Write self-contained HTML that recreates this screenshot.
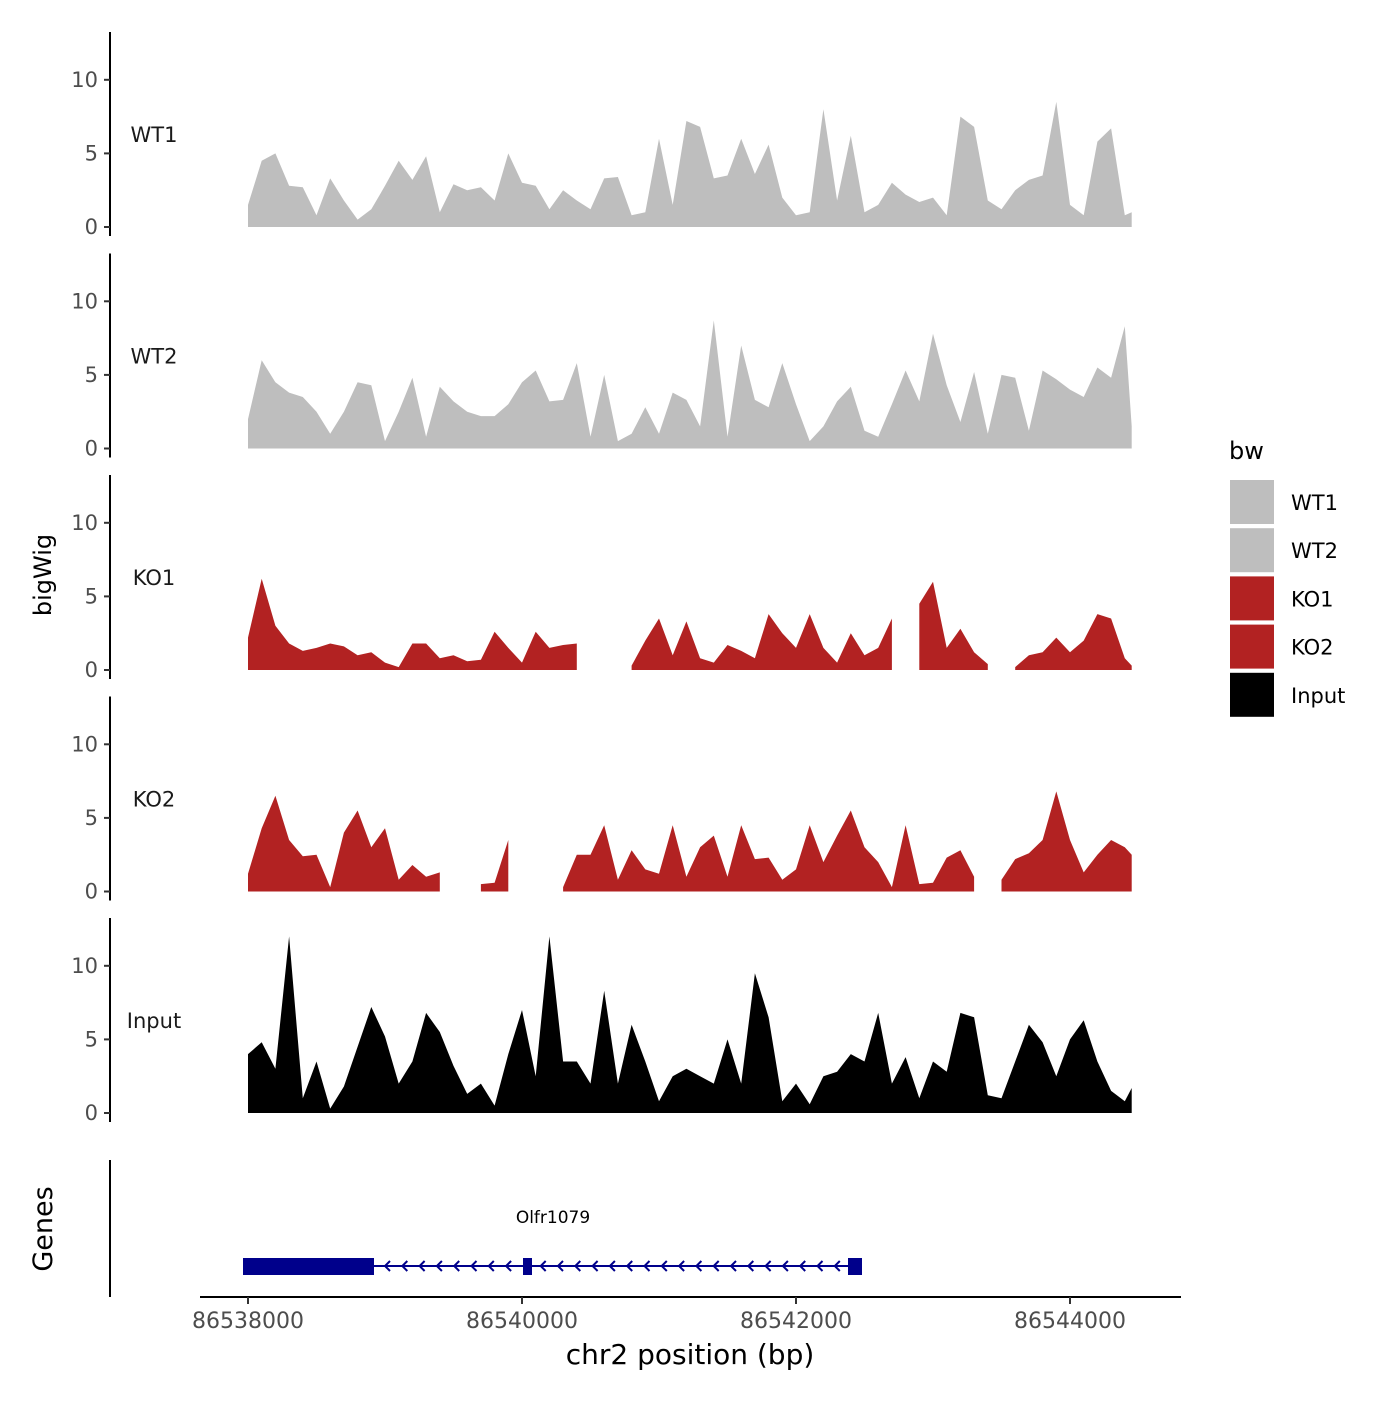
<!DOCTYPE html>
<html><head><meta charset="utf-8"><style>
html,body{margin:0;padding:0;background:#fff;}
svg text{font-family:"DejaVu Sans","Liberation Sans",sans-serif;}
</style></head><body>
<svg id="chart" width="1400" height="1400" viewBox="0 0 1400 1400" xmlns="http://www.w3.org/2000/svg"></svg>
<script>
const trackNames = ["WT1","WT2","KO1","KO2","Input"];
const trackColors = ["#bebebe","#bebebe","#b22222","#b22222","#000000"];
const yTicks = [0,5,10];
const xTicks = [86538000,86540000,86542000,86544000];
const startBp = 86538000, stepBp = 100;
const wt1 = [1.5,4.5,5,2.8,2.7,0.8,3.3,1.8,0.5,1.2,2.8,4.5,3.2,4.8,1,2.9,2.5,2.7,1.8,5,3,2.8,1.2,2.5,1.8,1.2,3.3,3.4,0.8,1,6,1.5,7.2,6.8,3.3,3.5,6,3.6,5.6,2,0.8,1,8,1.8,6.2,1,1.5,3,2.2,1.7,2,0.8,7.5,6.8,1.8,1.2,2.5,3.2,3.5,8.5,1.5,0.8,5.8,6.7,0.8,1];
const wt2 = [2,6,4.5,3.8,3.5,2.5,1,2.5,4.5,4.3,0.5,2.5,4.8,0.8,4.2,3.2,2.5,2.2,2.2,3,4.5,5.3,3.2,3.3,5.8,0.8,5,0.5,1,2.8,1,3.8,3.3,1.5,8.7,0.8,7,3.3,2.8,5.8,3,0.5,1.5,3.2,4.2,1.2,0.8,3,5.3,3.2,7.8,4.3,1.8,5.2,1,5,4.8,1.2,5.3,4.7,4,3.5,5.5,4.8,8.3,1.5];
const ko1 = [2.2,6.2,3,1.8,1.3,1.5,1.8,1.6,1,1.2,0.5,0.2,1.8,1.8,0.8,1,0.6,0.7,2.6,1.5,0.5,2.6,1.5,1.7,1.8,null,null,null,0.3,2,3.5,1,3.3,0.8,0.5,1.7,1.3,0.8,3.8,2.5,1.5,3.8,1.5,0.5,2.5,1,1.5,3.5,null,4.5,6,1.5,2.8,1.2,0.4,null,0.2,1,1.2,2.2,1.2,2,3.8,3.5,0.8,0.3];
const ko2 = [1.2,4.3,6.5,3.5,2.4,2.5,0.3,4,5.5,3,4.3,0.8,1.8,1,1.3,null,null,0.5,0.6,3.5,null,null,null,0.3,2.5,2.5,4.5,0.8,2.8,1.5,1.2,4.5,1,3,3.8,1,4.5,2.2,2.3,0.8,1.5,4.5,2,3.8,5.5,3,2,0.3,4.5,0.5,0.6,2.3,2.8,1,null,0.8,2.2,2.6,3.5,6.8,3.5,1.3,2.5,3.5,3,2.5];
const inputVals = [4,4.8,3,12,1,3.5,0.3,1.8,4.5,7.2,5.2,2,3.5,6.8,5.5,3.2,1.3,2,0.5,4,7,2.5,12,3.5,3.5,2,8.3,2,6,3.5,0.8,2.5,3,2.5,2,5,2,9.5,6.5,0.8,2,0.6,2.5,2.8,4,3.5,6.8,2,3.8,1,3.5,2.8,6.8,6.5,1.2,1,3.5,6,4.8,2.5,5,6.3,3.5,1.5,0.8,1.7];
const series = [wt1,wt2,ko1,ko2,inputVals];

const svg = document.getElementById('chart');
const NS = "http://www.w3.org/2000/svg";
function mk(tag, attrs, parent){const e=document.createElementNS(NS,tag);for(const k in attrs)e.setAttribute(k,attrs[k]);(parent||svg).appendChild(e);return e;}
const xScale = bp => 248 + (bp - 86538000) * (822/6000);
const panelZero = i => 227 + i*221.5;
const yScale = (i,v) => panelZero(i) - v*14.72;

trackNames.forEach((name,i)=>{
  const g = mk('g',{});
  
  
  const data = series[i];
  let seg = [];
  const segs = [];
  data.forEach((v,j)=>{
    if(v===null){ if(seg.length) segs.push(seg); seg=[]; }
    else seg.push([startBp + (j===data.length-1 ? 6450 : j*stepBp), v]);
  });
  if(seg.length) segs.push(seg);
  segs.forEach(s=>{
    let d = 'M'+xScale(s[0][0]).toFixed(1)+','+panelZero(i);
    s.forEach(p=>{ d += ' L'+xScale(p[0]).toFixed(1)+','+yScale(i,p[1]).toFixed(1); });
    d += ' L'+xScale(s[s.length-1][0]).toFixed(1)+','+panelZero(i)+' Z';
    const p = mk('path',{d:d,fill:trackColors[i]},g);
    
    
  });
  const top = 32 + i*221.5, bot = 236 + i*221.5;
  const ax = mk('line',{x1:110,x2:110,y1:top,y2:bot,stroke:'#000','stroke-width':2});
  
  
  yTicks.forEach(t=>{
    const y = yScale(i,t);
    mk('line',{x1:104,x2:110,y1:y,y2:y,stroke:'#333','stroke-width':2});
    const tx = mk('text',{x:98,y:y+7,'text-anchor':'end','font-size':21,fill:'#4d4d4d'});
    tx.textContent = t;
    
    
  });
  const lab = mk('text',{x:154,y:142+i*221.5,'text-anchor':'middle','font-size':21,fill:'#1a1a1a'});
  lab.textContent = name;
  
  
});

const yt = mk('text',{x:0,y:0,'font-size':24,fill:'#000','text-anchor':'middle',transform:'translate(51,575) rotate(-90)'});
yt.textContent='bigWig';



const ga = mk('line',{x1:110,x2:110,y1:1160,y2:1297,stroke:'#000','stroke-width':2});


const gt = mk('text',{x:0,y:0,'font-size':27,fill:'#000','text-anchor':'middle',transform:'translate(52,1229) rotate(-90)'});
gt.textContent='Genes';



const gene = mk('g',{});


mk('line',{x1:374,x2:857,y1:1266,y2:1266,stroke:'#00008b','stroke-width':2},gene);
for(let x=386;x<845;x+=17.3){
  if(x>518 && x<537) continue;
  mk('polyline',{points:(x+4)+',1261 '+(x-1)+',1266 '+(x+4)+',1271',fill:'none',stroke:'#00008b','stroke-width':2},gene);
}
mk('rect',{x:243,y:1258,width:131,height:17,fill:'#00008b'},gene);
mk('rect',{x:523,y:1258,width:9,height:17,fill:'#00008b'},gene);
mk('rect',{x:848,y:1258,width:14,height:17,fill:'#00008b'},gene);
const gl = mk('text',{x:553,y:1223,'text-anchor':'middle','font-size':17,fill:'#000'});
gl.textContent='Olfr1079';



const xa = mk('line',{x1:200,x2:1181,y1:1297,y2:1297,stroke:'#000','stroke-width':2});


xTicks.forEach(t=>{
  const x = xScale(t);
  mk('line',{x1:x,x2:x,y1:1297,y2:1304,stroke:'#333','stroke-width':2});
  const tx = mk('text',{x:x,y:1328,'text-anchor':'middle','font-size':22,fill:'#4d4d4d'});
  tx.textContent = t;
  
  
});
const xt = mk('text',{x:690,y:1364,'text-anchor':'middle','font-size':28,fill:'#000'});
xt.textContent='chr2 position (bp)';



const lg = mk('g',{});


const lt = mk('text',{x:1229,y:459,'font-size':24,fill:'#000'},lg);
lt.textContent='bw';
trackNames.forEach((name,i)=>{
  const e = mk('g',{},lg);
  
  
  mk('rect',{x:1230,y:480+i*48.2,width:44,height:44,fill:trackColors[i]},e);
  const t = mk('text',{x:1291,y:510+i*48.2,'font-size':21,fill:'#000'},e);
  t.textContent=name;
});
</script>
</body></html>
